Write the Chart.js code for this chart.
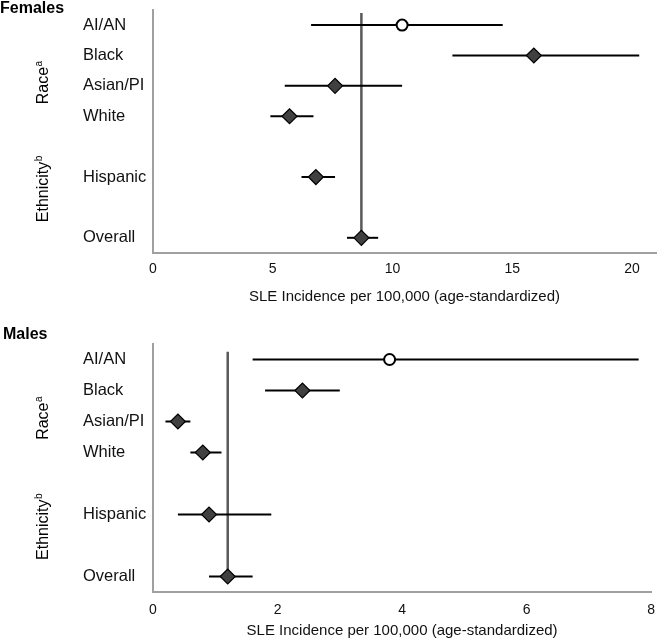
<!DOCTYPE html>
<html>
<head>
<meta charset="utf-8">
<script src="https://cdn.jsdelivr.net/npm/chart.js@4"></script>
<style>
    body { margin: 0; background: #fff; }
    .panel { position: absolute; left: 0; width: 665px; }
    #femalePanel { top: 0; height: 320px; }
    #malePanel { top: 320px; height: 321px; }
</style>
</head>
<body>
<div class="panel" id="femalePanel"><canvas id="femaleChart"></canvas></div>
<div class="panel" id="malePanel"><canvas id="maleChart"></canvas></div>
<script>
// Dữ liệu
const categories = ['AI/AN', 'Black', 'Asian/PI', 'White', 'Hispanic', 'Overall'];
const suppressed = [true, false, false, false, false, false];

const femaleRate = [10.4, 15.9, 7.6, 5.7, 6.8, 8.7];
const femaleLower = [6.6, 12.5, 5.5, 4.9, 6.2, 8.1];
const femaleUpper = [14.6, 20.3, 10.4, 6.7, 7.6, 9.4];
const femaleTicks = [0, 5, 10, 15, 20];

const maleRate = [3.8, 2.4, 0.4, 0.8, 0.9, 1.2];
const maleLower = [1.6, 1.8, 0.2, 0.6, 0.4, 0.9];
const maleUpper = [7.8, 3.0, 0.6, 1.1, 1.9, 1.6];
const maleTicks = [0, 2, 4, 6, 8];

// Bố cục hàng (có khoảng trống giữa các nhóm)
const rowSlots = [0, 1, 2, 3, 5, 7];
const FONT = '"Liberation Sans", Arial, sans-serif';
const AXIS_TITLE = 'SLE Incidence per 100,000 (age-standardized)';

const panelLabels = {
    id: 'panelLabels',
    afterDraw(chart, args, opts) {
        const ctx = chart.ctx;
        const y = chart.scales.y;
        ctx.save();
        ctx.fillStyle = '#000';
        ctx.font = 'bold 16px ' + FONT;
        ctx.textBaseline = 'alphabetic';
        ctx.textAlign = 'left';
        ctx.fillText(opts.title, opts.titleX, opts.titleY);

        opts.groups.forEach(g => {
            ctx.save();
            ctx.translate(42, y.getPixelForValue(g.at));
            ctx.rotate(-Math.PI / 2);
            ctx.font = '16px ' + FONT;
            const w1 = ctx.measureText(g.text).width;
            ctx.font = '10px ' + FONT;
            const w2 = ctx.measureText(g.sup).width;
            const x0 = -(w1 + w2) / 2;
            ctx.font = '16px ' + FONT;
            ctx.fillText(g.text, x0, 6);
            ctx.font = '10px ' + FONT;
            ctx.fillText(g.sup, x0 + w1 + 0.5, -0.5);
            ctx.restore();
        });
        ctx.restore();
    }
};

function buildChart(canvasId, rate, lower, upper, ticks, opt) {
    const datasets = [];

    datasets.push({
        data: rate.map((v, i) => ({ x: v, y: rowSlots[i] })),
        pointStyle: suppressed.map(s => s ? 'circle' : 'rectRot'),
        pointRadius: suppressed.map(s => s ? 5.5 : 7.5),
        pointBackgroundColor: suppressed.map(s => s ? '#ffffff' : '#404040'),
        pointBorderColor: '#000',
        pointBorderWidth: suppressed.map(s => s ? 2 : 1.2),
        showLine: false,
        order: 0
    });

    rate.forEach((v, i) => {
        datasets.push({
            data: [{ x: lower[i], y: rowSlots[i] }, { x: upper[i], y: rowSlots[i] }],
            showLine: true,
            borderColor: '#000',
            borderWidth: 2,
            pointRadius: 0,
            order: 1
        });
    });

    // Đường tham chiếu tại giá trị tổng thể
    const overall = rate[rate.length - 1];
    datasets.push({
        data: [{ x: overall, y: opt.refStart }, { x: overall, y: rowSlots[rowSlots.length - 1] }],
        showLine: true,
        borderColor: '#5a5a5a',
        borderWidth: 2.5,
        pointRadius: 0,
        order: 2
    });

    return new Chart(document.getElementById(canvasId), {
        type: 'scatter',
        data: { datasets },
        options: {
            responsive: true,
            maintainAspectRatio: false,
            animation: false,
            layout: { padding: { left: 83, right: 9, top: opt.padTop, bottom: 0 } },
            plugins: {
                legend: { display: false },
                tooltip: { enabled: false },
                panelLabels: {
                    title: opt.title,
                    titleX: opt.titleX,
                    titleY: opt.titleY,
                    groups: [
                        { text: 'Race', sup: 'a', at: 1.9 },
                        { text: 'Ethnicity', sup: 'b', at: 5.4 }
                    ]
                }
            },
            scales: {
                x: {
                    type: 'linear',
                    min: 0,
                    max: opt.xMax,
                    grid: { display: false, drawTicks: false },
                    border: { display: true, color: '#a0a0a0', width: 2 },
                    afterBuildTicks: s => { s.ticks = ticks.map(v => ({ value: v })); },
                    afterFit: s => { s.height = opt.xHeight; },
                    ticks: {
                        autoSkip: false,
                        maxRotation: 0,
                        padding: opt.tickPad,
                        color: '#111',
                        font: { family: FONT, size: 14 }
                    },
                    title: {
                        display: true,
                        text: AXIS_TITLE,
                        color: '#111',
                        font: { family: FONT, size: 15 },
                        padding: { top: 0, bottom: opt.titlePad }
                    }
                },
                y: {
                    type: 'linear',
                    min: -0.5,
                    max: 7.5,
                    reverse: true,
                    grid: { display: false, drawTicks: false },
                    border: { display: true, color: '#a0a0a0', width: 2 },
                    afterBuildTicks: s => { s.ticks = rowSlots.map(v => ({ value: v })); },
                    afterFit: s => { s.width = 70; },
                    ticks: {
                        autoSkip: false,
                        crossAlign: 'far',
                        padding: 0,
                        color: '#111',
                        font: { family: FONT, size: 16.5 },
                        callback: v => categories[rowSlots.indexOf(v)]
                    }
                }
            }
        },
        plugins: [panelLabels]
    });
}

buildChart('femaleChart', femaleRate, femaleLower, femaleUpper, femaleTicks, {
    title: 'Females', titleX: 0, titleY: 13,
    xMax: 21, padTop: 5, xHeight: 67, tickPad: 8, titlePad: 14, refStart: -0.4
});

buildChart('maleChart', maleRate, maleLower, maleUpper, maleTicks, {
    title: 'Males', titleX: 3, titleY: 18.5,
    xMax: 8, padTop: 24, xHeight: 49, tickPad: 10, titlePad: 1, refStart: -0.25
});
</script>
</body>
</html>
